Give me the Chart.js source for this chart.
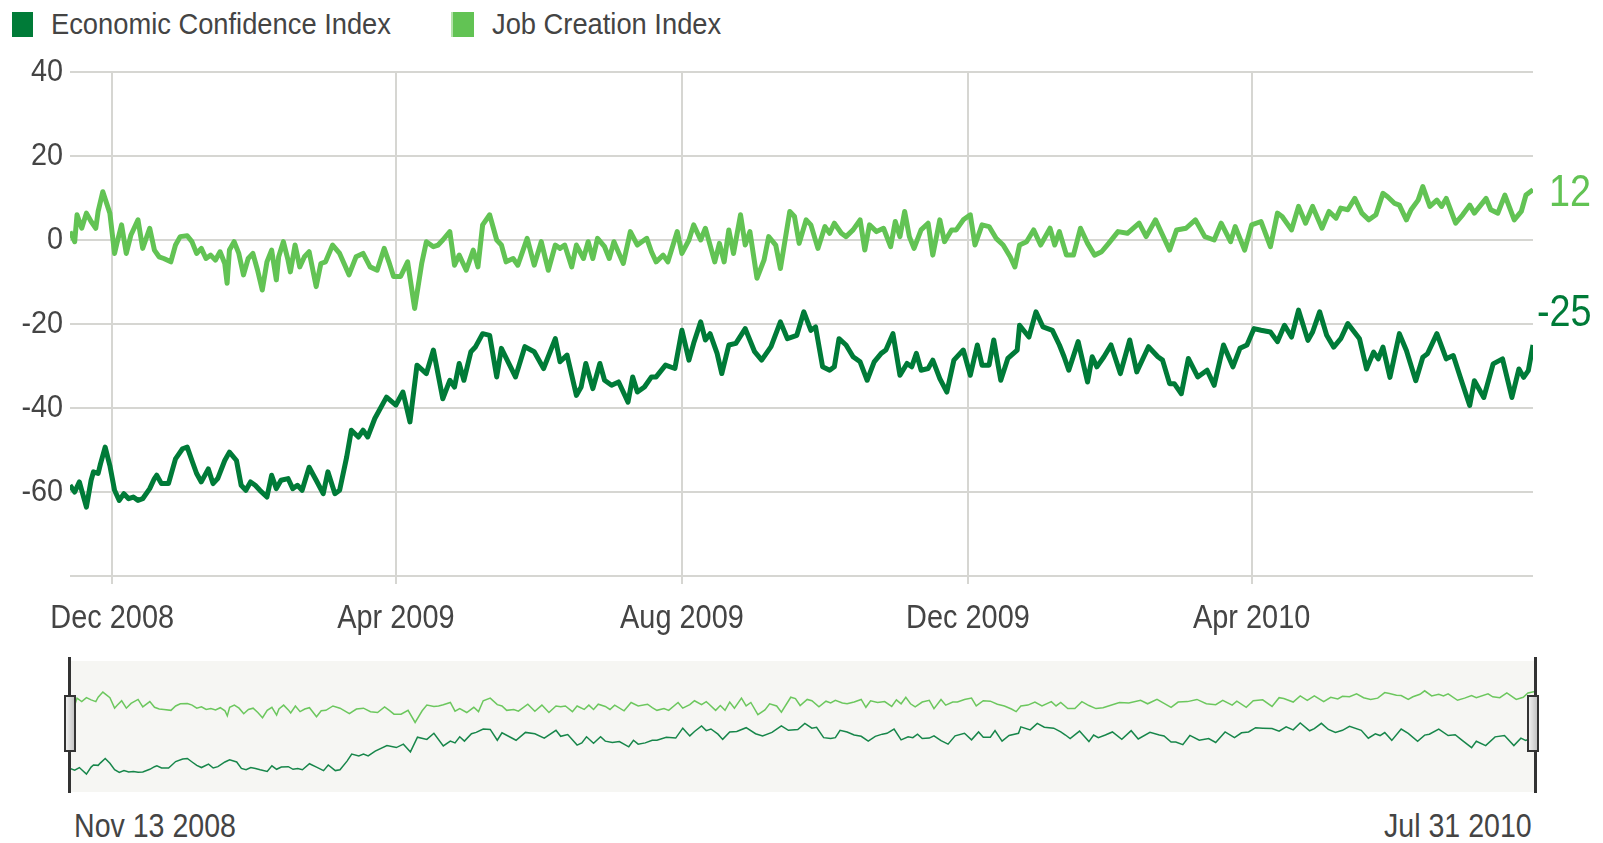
<!DOCTYPE html>
<html>
<head>
<meta charset="utf-8">
<script src="https://cdn.jsdelivr.net/npm/chart.js@4.4.1/dist/chart.umd.min.js"></script>
<style>
  html, body { margin: 0; padding: 0; background: #fff; }
  body {
    width: 1603px; height: 843px; position: relative; overflow: hidden;
    font-family: "Liberation Sans", Arial, sans-serif;
    color: #444;
  }
  .narrow { position: absolute; white-space: nowrap; transform-origin: 0 50%; }
  .key { position: absolute; top: 12px; width: 21px; height: 25px; }
  .keyText { top: 7px; font-size: 30px; line-height: 34px; transform: scaleX(0.91); }
  .endLbl { font-size: 45px; line-height: 46px; transform: scaleX(0.84); }
  .navLbl { top: 806px; font-size: 34px; line-height: 38px; transform: scaleX(0.84); }
  #navBox { position: absolute; left: 70px; top: 661px; width: 1465px; height: 131px; background: #f6f6f3; }
  .bar { position: absolute; top: 657px; width: 3px; height: 136px; background: #333; }
  .handle { position: absolute; top: 695px; width: 8px; height: 53px; border: 2px solid #333;
            background: linear-gradient(to right, #f0f0f0, #c4c4c4); }
</style>
</head>
<body>
<div class="key" style="left:12px;background:#007b38"></div>
<div class="narrow keyText" style="left:51px">Economic Confidence Index</div>
<div class="key" style="left:451px;width:23px;background:#62c354;border-left:2px solid #b4e2ab;box-sizing:border-box"></div>
<div class="narrow keyText" style="left:492px">Job Creation Index</div>

<canvas id="mainChart" width="1603" height="650" style="position:absolute;left:0;top:0"></canvas>

<div class="narrow endLbl" style="left:1549px;top:168px;color:#62c354">12</div>
<div class="narrow endLbl" style="left:1537px;top:288px;color:#007b38">-25</div>

<div id="navBox"></div>
<canvas id="navChart" width="1603" height="131" style="position:absolute;left:0;top:661px"></canvas>
<div class="bar" style="left:68px"></div>
<div class="bar" style="left:1534px"></div>
<div class="handle" style="left:64px"></div>
<div class="handle" style="left:1527px"></div>

<div class="narrow navLbl" style="left:74px">Nov 13 2008</div>
<div class="narrow navLbl" style="left:1384px">Jul 31 2010</div>

<script>
// days counted from Nov 13 2008
const jciDays = [
  0, 2, 3, 5, 7, 9, 11, 12, 14, 17,
  19, 20, 22, 24, 26, 29, 31, 34, 36, 38,
  40, 43, 45, 47, 50, 52, 54, 56, 58, 60,
  62, 64, 66, 67, 68, 70, 72, 74, 76, 78,
  80, 82, 84, 86, 88, 89, 91, 93, 94, 96,
  98, 100, 102,
  105, 107, 109, 112, 115, 119, 122, 125, 128, 131,
  134, 136, 138, 141, 144, 147, 150, 152, 155, 157,
  159, 162, 164, 166, 169, 172, 174, 176, 179, 182,
  184, 186, 189, 191, 195, 198, 201, 204, 207,
  209, 211, 214, 216, 219, 221, 223, 225, 228, 230,
  232, 236, 239, 242, 246, 248, 250, 253, 255, 259,
  261, 264, 266, 269, 271, 272, 275, 277, 279, 281,
  283, 286, 288, 290, 293, 296, 298, 301, 303, 307,
  309, 311, 314,
  316, 319, 322, 324, 326, 329, 331, 334, 337, 339,
  341, 344, 347, 350, 352, 354, 356, 358, 360, 363,
  366, 368, 371, 373, 376, 378, 381, 384, 386, 389,
  392, 395, 398, 401, 403, 405, 408, 411, 414, 418,
  420, 422,
  425, 428, 431, 434, 437, 440, 443, 447, 451, 456,
  459, 463, 466, 469, 472, 476, 480, 484, 488, 491,
  495, 497, 501, 504, 508, 512, 515, 517, 521, 524,
  527, 530, 534, 537, 540, 542, 545, 548, 551, 554,
  557, 560, 562, 565, 567, 570, 572, 575, 577, 580,
  583, 585, 587, 591, 594, 597, 599, 604, 606, 609,
  612, 616, 619, 621, 624
];
const jciValues = [
  2.0, -0.4, 6.0, 2.8, 6.4, 4.4, 2.8, 6.8, 11.5, 6.4,
  -3.2, -0.8, 3.6, -3.2, 1.2, 4.8, -2.0, 2.8, -2.4, -4.0,
  -4.4, -5.2, -1.2, 0.8, 1.0, -0.4, -3.2, -2.0, -4.4, -3.6,
  -4.8, -2.8, -5.6, -10.3, -2.4, -0.4, -3.2, -8.3, -4.4, -3.2,
  -7.2, -11.9, -5.2, -2.4, -9.5, -4.0, -0.4, -4.8, -7.6, -1.2,
  -6.4, -4.0, -2.8,
  -11.1, -5.6, -5.2, -1.2, -3.2, -8.3, -4.0, -3.2, -6.4, -7.2,
  -2.0, -5.2, -8.7, -8.7, -5.2, -16.3, -5.6, -0.4, -1.6, -1.2,
  0.0, 2.0, -6.0, -3.6, -7.2, -2.4, -6.4, 3.6, 6.0, 0.0,
  -1.2, -5.2, -4.4, -6.0, 0.4, -6.0, -0.4, -7.2, -1.2,
  -2.0, -1.2, -6.4, -1.2, -4.4, -0.4, -4.4, 0.4, -1.6, -4.4,
  -0.4, -5.6, 2.0, -1.2, 0.4, -2.8, -5.2, -3.6, -5.2, 2.0,
  -3.2, 0.0, 3.6, 0.0, 2.8, 0.8, -5.2, -0.8, -5.2, 2.4,
  -3.2, 6.0, -1.2, 2.0, -9.1, -4.8, 0.8, -1.2, -6.8, 6.8,
  5.6, -0.8, 4.8,
  3.6, -2.0, 3.2, 1.6, 4.0, 1.6, 0.8, 2.4, 4.8, -2.4,
  3.6, 2.0, 2.8, -1.6, 4.4, 0.8, 6.8, 0.8, -2.0, 2.4,
  4.0, -3.6, 4.8, -0.4, 2.4, 2.4, 4.8, 6.0, -1.2, 3.6,
  3.2, 0.4, -1.2, -4.0, -6.4, -1.2, -0.4, 2.4, -1.2, 2.8,
  -1.2, 2.0,
  -3.6, -3.6, 2.8, -0.8, -3.6, -2.8, -0.8, 2.0, 1.6, 4.0,
  0.8, 4.8, 1.2, -2.4, 2.4, 2.8, 4.8, 0.8, 0.0, 4.0,
  -0.4, 3.2, -2.4, 3.6, 4.4, -1.6, 6.4, 5.6, 2.4, 8.0,
  4.0, 8.0, 2.8, 6.8, 5.2, 7.6, 7.2, 9.9, 6.4, 4.8,
  6.0, 11.1, 10.3, 8.7, 8.3, 4.8, 7.2, 9.5, 12.7, 8.0,
  9.5, 8.0, 9.9, 4.0, 6.0, 8.3, 6.4, 9.9, 7.2, 6.4,
  10.7, 4.8, 6.8, 10.7, 12.0
];

const eciDays = [
  0, 2, 4, 5, 7, 9, 10, 12, 13, 15,
  17, 19, 21, 23, 25, 27, 29, 31, 34, 36,
  37, 39, 42, 45, 48, 50, 52, 54, 56, 59,
  61, 63, 66, 68, 71, 73, 75, 77, 79, 81,
  84, 86, 88, 90, 93, 95, 97, 99, 102,
  105, 108, 110, 113, 115, 118, 120, 123, 125, 127,
  130, 135, 139, 142, 145, 148, 152, 155, 159, 162,
  164, 166, 168, 171, 173, 176, 179, 182, 184, 190,
  194, 198, 202, 207,
  209, 212, 216, 218, 220, 223, 226, 228, 231, 234,
  238, 240, 242, 245, 248, 250, 254, 258, 261, 264,
  266, 269, 271, 273, 276, 278, 281, 284, 288, 292,
  295, 299, 303, 306, 310, 313,
  316, 318, 321, 324, 326, 328, 331, 334, 337, 340,
  343, 346, 348, 351, 354, 357, 359, 361, 363, 366,
  368, 371, 374, 377, 381, 384, 387, 389, 392, 394,
  397, 400, 404, 405, 409, 412, 415, 419, 422,
  424, 426, 430, 434, 436, 438, 441, 444, 448, 452,
  455, 460, 464, 466, 469, 471, 474, 477, 481, 485,
  488, 492, 496, 499, 502, 505, 508, 512, 515, 518,
  521, 524,
  528, 530, 533, 536, 539, 542, 545, 550, 553, 556,
  558, 560, 563, 567, 570, 574, 577, 579, 583, 587,
  590, 593, 597, 599, 603, 607, 611, 615, 618, 620,
  622, 624
];
const eciValues = [
  -58.4, -60.0, -57.6, -59.6, -63.6, -57.2, -55.2, -55.6, -53.3, -49.3,
  -53.7, -59.6, -62.0, -60.4, -61.6, -61.2, -62.0, -61.6, -59.2, -56.8,
  -56.0, -58.0, -58.0, -52.1, -49.7, -49.3, -52.5, -55.6, -57.6, -54.5,
  -58.0, -56.8, -52.5, -50.5, -52.5, -58.4, -59.6, -57.6, -58.4, -59.6,
  -61.2, -56.0, -59.2, -57.2, -56.8, -59.2, -58.4, -59.6, -54.1,
  -57.2, -60.4, -55.2, -60.4, -59.6, -51.7, -45.3, -46.9, -45.3, -46.9,
  -42.5, -37.4, -39.3, -36.2, -43.3, -29.8, -31.8, -26.2, -37.8, -33.4,
  -35.0, -29.4, -33.4, -26.6, -25.4, -22.3, -22.7, -32.6, -25.8, -32.6,
  -25.4, -26.6, -30.6, -23.5,
  -29.0, -27.4, -37.0, -35.0, -29.4, -35.4, -29.4, -33.4, -34.6, -33.8,
  -38.6, -32.6, -36.2, -35.0, -32.6, -32.6, -29.8, -30.6, -21.5, -28.6,
  -24.6, -19.5, -23.8, -22.3, -27.0, -31.8, -25.0, -24.6, -21.1, -26.6,
  -28.6, -25.4, -19.5, -23.5, -22.7, -17.1,
  -21.5, -20.7, -30.2, -31.0, -30.2, -23.5, -25.0, -27.8, -29.0, -33.4,
  -29.0, -27.0, -26.2, -22.3, -32.2, -29.4, -30.2, -27.0, -31.0, -30.6,
  -28.6, -33.0, -36.2, -28.6, -26.2, -32.2, -25.0, -29.8, -29.8, -23.8,
  -33.4, -28.2, -26.2, -20.3, -23.1, -17.1, -20.7, -21.5, -25.0,
  -27.8, -31.0, -24.2, -33.8, -27.8, -30.2, -27.8, -25.0, -31.8, -23.8,
  -31.4, -25.4, -27.8, -28.6, -34.2, -34.2, -36.6, -28.2, -32.6, -31.0,
  -34.6, -25.0, -30.2, -25.8, -25.0, -21.1, -21.5, -21.9, -24.2, -20.3,
  -23.1, -16.7,
  -23.9, -21.9, -17.1, -22.7, -25.5, -23.5, -19.9, -23.5, -30.7, -26.7,
  -28.3, -25.5, -32.7, -22.3, -26.3, -33.5, -27.9, -27.1, -22.3, -28.3,
  -27.5, -32.7, -39.4, -33.5, -37.5, -29.5, -28.3, -37.5, -30.7, -32.7,
  -31.1, -25.0
];

const tickDays = [18, 139, 261, 383, 504];
const tickLabels = ['Dec 2008', 'Apr 2009', 'Aug 2009', 'Dec 2009', 'Apr 2010'];
const yTicks = [40, 20, 0, -20, -40, -60];
const lastDay = 624;

const DARK = '#007b38';
const LIGHT = '#62c354';
const GRID = '#d6d6d2';
const TEXT = '#444';

function toPoints(days, vals) {
  return days.map((d, i) => ({ x: d, y: vals[i] }));
}

// tick labels drawn by hand so they can be squeezed like the original narrow font
const narrowLabels = {
  id: 'narrowLabels',
  afterDraw(chart) {
    const ctx = chart.ctx;
    const xs = chart.scales.x, ys = chart.scales.y;
    ctx.save();
    ctx.fillStyle = TEXT;
    ctx.textBaseline = 'middle';
    ctx.font = '34px "Liberation Sans", Arial, sans-serif';
    ctx.textAlign = 'center';
    tickDays.forEach((d, i) => {
      ctx.save();
      ctx.translate(xs.getPixelForValue(d), 619);
      ctx.scale(0.85, 1);
      ctx.fillText(tickLabels[i], 0, 0);
      ctx.restore();
    });
    ctx.font = '32px "Liberation Sans", Arial, sans-serif';
    ctx.textAlign = 'right';
    yTicks.forEach(v => {
      ctx.save();
      ctx.translate(63, ys.getPixelForValue(v));
      ctx.scale(0.9, 1);
      ctx.fillText(String(v), 0, 0);
      ctx.restore();
    });
    ctx.restore();
  }
};

// main chart
new Chart(document.getElementById('mainChart'), {
  type: 'line',
  data: {
    datasets: [
      { label: 'Job Creation Index', data: toPoints(jciDays, jciValues), borderColor: LIGHT,
        borderWidth: 5, pointRadius: 0, tension: 0, borderJoinStyle: 'round' },
      { label: 'Economic Confidence Index', data: toPoints(eciDays, eciValues), borderColor: DARK,
        borderWidth: 5, pointRadius: 0, tension: 0, borderJoinStyle: 'round' }
    ]
  },
  options: {
    responsive: false,
    animation: false,
    layout: { padding: { top: 72, right: 70, left: 0, bottom: 0 } },
    plugins: { legend: { display: false }, tooltip: { enabled: false } },
    scales: {
      x: {
        type: 'linear', min: 0, max: lastDay,
        afterBuildTicks: s => { s.ticks = tickDays.map(v => ({ value: v })); },
        afterFit: s => { s.height = 74; },
        grid: { color: GRID, lineWidth: 2, tickLength: 8 },
        border: { display: false },
        ticks: { display: false }
      },
      y: {
        min: -80, max: 40,
        afterFit: s => { s.width = 70; },
        grid: { color: GRID, lineWidth: 2, drawTicks: false },
        border: { display: false },
        ticks: { display: false, stepSize: 20 }
      }
    }
  },
  plugins: [narrowLabels]
});

// navigator strip
new Chart(document.getElementById('navChart'), {
  type: 'line',
  data: {
    datasets: [
      { data: toPoints(jciDays, jciValues), borderColor: '#6cc75e', borderWidth: 1.5, pointRadius: 0 },
      { data: toPoints(eciDays, eciValues), borderColor: '#17864a', borderWidth: 1.5, pointRadius: 0 }
    ]
  },
  options: {
    responsive: false,
    animation: false,
    layout: { padding: { top: 0, right: 68, left: 70, bottom: 0 } },
    plugins: { legend: { display: false }, tooltip: { enabled: false } },
    scales: {
      x: { type: 'linear', display: false, min: 0, max: lastDay },
      y: { display: false, min: -80, max: 40 }
    }
  }
});
</script>
</body>
</html>
